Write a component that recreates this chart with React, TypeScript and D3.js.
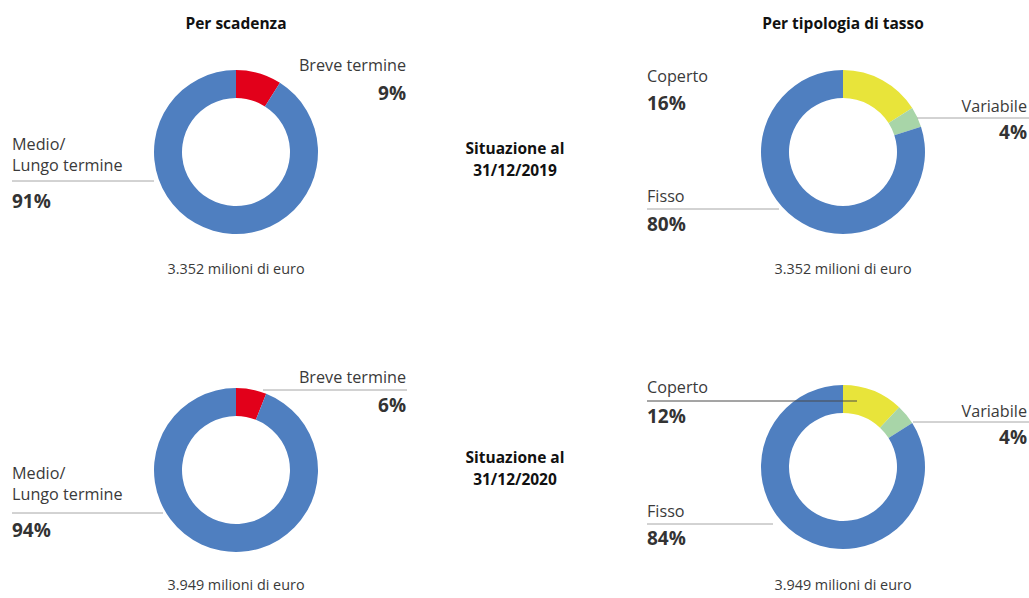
import React from "react";
import * as d3 from "d3";

// chart values (percent)
const scadenzaCategories = ["Breve termine", "Medio/Lungo termine"];
const scadenza2019 = [9, 91];
const scadenza2020 = [6, 94];

const tassoCategories = ["Coperto", "Variabile", "Fisso"];
const tasso2019 = [16, 4, 80];
const tasso2020 = [12, 4, 84];

const totals = ["3.352", "3.949"];
const periods = ["31/12/2019", "31/12/2020"];
const titles = ["Per scadenza", "Per tipologia di tasso"];

const scadenzaColors = ["#e2001a", "#4f7fc0"];
const tassoColors = ["#e8e43a", "#a8d5a8", "#4f7fc0"];

const W = 1029,
  H = 598;
const font = "'Open Sans', sans-serif";
const textColor = "#3a3a3a";
const lineColor = "#a6a6a6";

type Label = {
  lines: string[];
  x: number;
  anchor: "start" | "end";
  y: number; // baseline of first name line
  pctY: number;
  line?: [number, number, number, string?];
};

const Donut = ({ cx, cy, values, colors }: { cx: number; cy: number; values: number[]; colors: string[] }) => {
  const pie = d3.pie<number>().sort(null).value(d => d);
  const arc = d3.arc<d3.PieArcDatum<number>>().innerRadius(54).outerRadius(82);
  return (
    <g transform={`translate(${cx},${cy})`}>
      {pie(values).map((a, i) => (
        <path key={i} d={arc(a) || ""} fill={colors[i]} />
      ))}
    </g>
  );
};

const Labels = ({ labels, values }: { labels: Label[]; values: number[] }) => (
  <g fontFamily={font} fill={textColor}>
    {labels.map((l, i) => (
      <g key={i}>
        {l.line && (
          <line x1={l.line[0]} x2={l.line[1]} y1={l.line[2]} y2={l.line[2]} stroke={l.line[3] || lineColor} strokeWidth={1} />
        )}
        {l.lines.map((t, j) => (
          <text key={j} x={l.x} y={l.y + j * 21} textAnchor={l.anchor} fontSize={16.2}>
            {t}
          </text>
        ))}
        <text x={l.x} y={l.pctY} textAnchor={l.anchor} fontSize={19} fontWeight="bold" fill="#333">
          {values[i]}%
        </text>
      </g>
    ))}
  </g>
);

const Total = ({ x, y, t }: { x: number; y: number; t: string }) => (
  <text x={x} y={y} textAnchor="middle" fontFamily={font} fontSize={14.4} fill={textColor}>
    {t} milioni di euro
  </text>
);

const splitName = (n: string) => (n.includes("/") ? [n.split("/")[0] + "/", n.split("/")[1]] : [n]);

export default function App() {
  const sc = scadenzaCategories.map(splitName);
  const tc = tassoCategories;

  const tl: Label[] = [
    { lines: sc[0], x: 406, anchor: "end", y: 71, pctY: 100 },
    { lines: sc[1], x: 12, anchor: "start", y: 150, pctY: 208, line: [12, 154, 181] }
  ];
  const bl: Label[] = [
    { lines: sc[0], x: 406, anchor: "end", y: 383, pctY: 412, line: [263, 407, 390] },
    { lines: sc[1], x: 12, anchor: "start", y: 479, pctY: 537, line: [12, 163, 513] }
  ];
  const tr: Label[] = [
    { lines: [tc[0]], x: 647, anchor: "start", y: 82, pctY: 110 },
    { lines: [tc[1]], x: 1027, anchor: "end", y: 112, pctY: 139, line: [917, 1029, 118] },
    { lines: [tc[2]], x: 647, anchor: "start", y: 202, pctY: 231, line: [647, 779, 209] }
  ];
  const br: Label[] = [
    { lines: [tc[0]], x: 647, anchor: "start", y: 393, pctY: 423, line: [647, 857, 401, "#4a4a4a"] },
    { lines: [tc[1]], x: 1027, anchor: "end", y: 417, pctY: 444, line: [913, 1029, 422] },
    { lines: [tc[2]], x: 647, anchor: "start", y: 517, pctY: 545, line: [647, 773, 524] }
  ];

  return (
    <div style={{ position: "absolute", left: 0, top: 0 }}>
      <svg width={W} height={H} style={{ display: "block", background: "#fff" }}>
        <g fontFamily={font} fontWeight="bold" fontSize={15.5} fill="#111" textAnchor="middle">
          <text x={236} y={29}>{titles[0]}</text>
          <text x={843} y={29}>{titles[1]}</text>
          <text x={515} y={154}>Situazione al</text>
          <text x={515} y={176}>{periods[0]}</text>
          <text x={515} y={463}>Situazione al</text>
          <text x={515} y={485}>{periods[1]}</text>
        </g>

        <Donut cx={236} cy={152} values={scadenza2019} colors={scadenzaColors} />
        <Donut cx={236} cy={470} values={scadenza2020} colors={scadenzaColors} />
        <Donut cx={843} cy={152} values={tasso2019} colors={tassoColors} />
        <Donut cx={843} cy={467} values={tasso2020} colors={tassoColors} />

        <Labels labels={tl} values={scadenza2019} />
        <Labels labels={bl} values={scadenza2020} />
        <Labels labels={tr} values={tasso2019} />
        <Labels labels={br} values={tasso2020} />

        <Total x={236} y={274} t={totals[0]} />
        <Total x={236} y={590} t={totals[1]} />
        <Total x={843} y={274} t={totals[0]} />
        <Total x={843} y={590} t={totals[1]} />
      </svg>
    </div>
  );
}
